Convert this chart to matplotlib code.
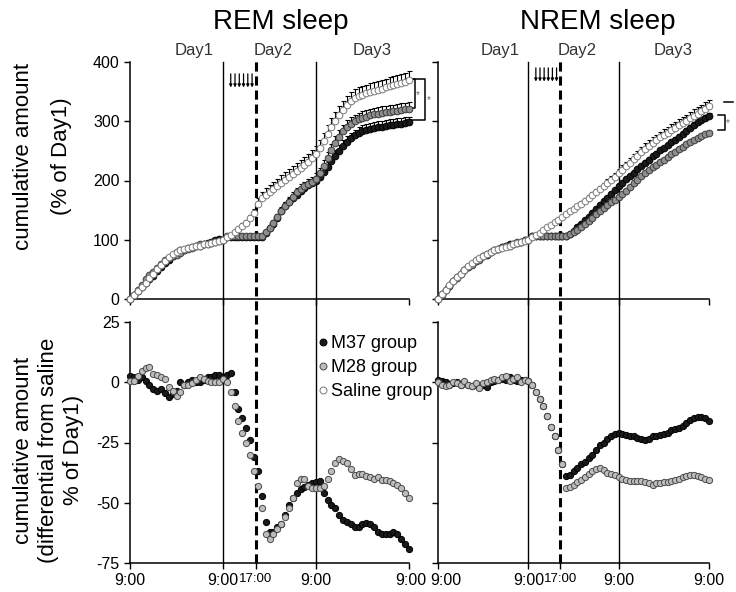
import matplotlib
matplotlib.use("Agg")
import matplotlib.pyplot as plt
import matplotlib.transforms as mtransforms
from matplotlib.lines import Line2D

plt.rcParams.update({
    "font.family": ["Liberation Sans", "DejaVu Sans"],
    "axes.unicode_minus": False,
    "axes.spines.top": False, "axes.spines.right": False,
    "axes.linewidth": 1.1, "xtick.major.width": 1.0, "ytick.major.width": 1.0,
    "xtick.major.size": 4, "ytick.major.size": 4,
})

# ---------------- data (hourly, 9:00 day1 = 0 h) ----------------
HOURS = list(range(73))
ERR_HOURS = list(range(24, 73))
DAY_BOUNDS = [24, 48]
DOSE_TIME = 32.5
XTICKS = [0, 24, 32.5, 48, 72]
XTICKLABELS = ["9:00", "9:00", "17:00", "9:00", "9:00"]
DAY_LABELS = ["Day1", "Day2", "Day3"]
DAY_LABEL_POS = [16.5, 37, 62.5]
ARROW_HOURS = [26.0, 27.1, 28.2, 29.3, 30.4, 31.5]

# REM sleep, cumulative amount (% of Day1)
REM_SAL = [0, 6, 13, 20, 27, 35, 42, 50, 57, 64, 71, 76, 80, 82, 84, 86, 87, 89, 90, 92, 93, 95, 96, 98, 100,
           104, 108, 113, 118, 123, 129, 136, 145, 160, 170, 176, 181, 186, 191, 196, 201, 206, 211, 216, 221,
           226, 232, 238, 245, 255, 266, 278, 290, 300, 310, 319, 327, 334, 339, 342, 345, 347, 349, 351, 353,
           355, 357, 359, 361, 363, 365, 367, 369]
REM_M37 = [0, 7, 14, 21, 27, 34, 39, 47, 54, 60, 66, 73, 80, 82, 83, 86, 88, 89, 90, 93, 95, 97, 99, 101, 100,
           105, 105, 105, 105, 105, 105, 105, 105, 105, 105,
           112, 119, 126, 137, 148, 157, 164, 170, 176, 182, 187, 192, 196,
           200, 206, 214, 223, 233, 242, 250, 258, 265, 271, 276, 280, 283, 285, 287, 289, 290, 291, 292, 293,
           294, 295, 296, 297, 298]
REM_M28 = [0, 6, 15, 24, 33, 41, 45, 52, 59, 65, 69, 73, 75, 78, 83, 85, 86, 90, 92, 93, 93, 95, 96, 98, 100,
           106, 106, 106, 106, 106, 106, 106, 106, 106, 106,
           113, 120, 128, 138, 148, 157, 164, 172, 180, 186, 190, 194, 198,
           203, 212, 224, 238, 252, 264, 274, 283, 291, 296, 300, 303, 306, 308, 310, 312, 313, 314, 315, 316,
           317, 318, 319, 320, 321]
REM_SAL_ERR = [2, 3, 3, 4, 4, 5, 5, 6, 7,
               10, 11, 11, 12, 12, 12, 13, 13, 13, 13, 13, 13, 13, 13, 13,
               13, 14, 14, 15, 15, 15, 15, 15, 15, 15, 15, 15, 15, 15, 15, 15, 15, 15, 15, 15, 15, 15, 15, 15, 15]
REM_M37_ERR = [1, 1, 1, 1, 1, 1, 1, 1, 1, 1, 1,
               3, 4, 5, 6, 6, 7, 7, 7, 7, 7, 7, 7, 7,
               8, 8, 9, 9, 9, 9, 10, 10, 10, 10, 10, 10, 10, 10, 10, 10, 10, 10, 10, 10, 10, 10, 10, 10, 10]
REM_M28_ERR = [1, 1, 1, 1, 1, 1, 1, 1, 1, 1, 1,
               3, 4, 5, 6, 7, 7, 8, 8, 8, 8, 8, 8, 8,
               9, 9, 10, 10, 10, 11, 11, 11, 11, 11, 11, 11, 11, 11, 11, 11, 11, 11, 11, 11, 11, 11, 11, 11, 11]

# NREM sleep, cumulative amount (% of Day1)
NREM_SAL = [0, 8, 16, 23, 30, 37, 43, 49, 55, 60, 65, 69, 73, 76, 79, 82, 84, 86, 88, 90, 92, 94, 96, 98, 100,
            104, 108, 112, 116, 121, 125, 130, 134, 139, 143, 148, 152, 157, 161, 166, 170, 175, 180, 185, 190,
            195, 201, 206, 212, 218, 224, 230, 236, 242, 248, 254, 259, 264, 268, 273, 277, 281, 285, 289, 293,
            297, 301, 305, 309, 313, 317, 321, 325]
NREM_M37 = [0, 8, 16, 22, 30, 37, 42, 49, 54, 59, 64, 67, 72, 74, 79, 82, 85, 87, 89, 92, 93, 94, 97, 99, 100,
            107, 107, 107, 107, 107, 107, 107, 107, 107, 107,
            110, 115, 121, 127, 133, 139, 145, 152, 159, 165, 171, 178, 184, 191, 196, 202, 207, 213, 219, 224,
            230, 235, 241, 245, 251, 255, 260, 265, 269, 274, 279, 284, 289, 294, 298, 302, 306, 309]
NREM_M28 = [0, 7, 15, 22, 30, 36, 42, 49, 54, 58, 64, 66, 72, 76, 80, 83, 85, 88, 90, 90, 93, 96, 96, 99, 100,
            107, 107, 107, 107, 107, 107, 107, 107, 107, 107,
            110, 113, 117, 121, 126, 131, 137, 143, 149, 154, 158, 163, 167, 172, 178, 183, 189, 195, 201, 207,
            212, 217, 222, 226, 231, 235, 240, 244, 248, 253, 257, 261, 265, 268, 272, 275, 278, 281]
NREM_SAL_ERR = [1, 1, 1, 2, 2, 2, 2, 3, 3, 3, 3, 4, 4, 4, 4, 5,
                5, 5, 6, 6, 6, 7, 7, 7, 7, 8, 8, 8, 8, 8, 9, 9, 9, 9, 9, 9, 10, 10, 10, 10, 10, 10, 10,
                11, 11, 11, 11, 11, 11]
NREM_M37_ERR = [1, 1, 1, 1, 1, 1, 1, 1, 1, 1, 1, 2, 2, 2, 2, 2, 2, 2, 2, 3, 3, 3, 3, 3, 3, 3, 3, 3, 3,
                4, 4, 4, 4, 4, 4, 4, 4, 4, 4, 4, 5, 5, 5, 5, 5, 5, 5, 5, 5]
NREM_M28_ERR = [1, 1, 1, 1, 1, 1, 1, 1, 1, 1, 1, 2, 2, 2, 2, 2, 2, 2, 2, 2, 2, 2, 2, 3, 3, 3, 3, 3, 3,
                3, 3, 3, 3, 3, 3, 3, 3, 3, 3, 3, 3, 3, 3, 3, 3, 3, 3, 3, 3]

# differential from saline (% of Day1)
REM_DIFF_M37 = [2.5, 2, 1, 2, 0.5, -1, -3, -3.5, -3, -4.5, -6, -5, -3.5, 0, -1, 0, 1, 0, 0, 1,
                2, 2, 3, 3, 2, 3, 4, -4, -11, -15, -19, -24, -31, -37, -47, -58, -62, -62, -60, -59,
                -55, -51, -48, -46, -44.5, -43.5, -42.5, -42, -41.5, -41, -46, -49, -51, -52, -55, -57, -58, -59,
                -60, -60, -59, -58.5, -59, -60, -62, -63, -63, -63, -62, -63, -65, -67, -69]
REM_DIFF_M28 = [0.5, 0.5, 2.5, 4.5, 6, 6.5, 3.5, 3, 2, 1.5, -2, -3.5, -5.5, -4, -1, -1, -0.5, 1, 2, 1.5,
                0.5, 0, 0, 0, 1.5, 0, -4, -10, -16, -21, -25, -30, -37, -43, -52, -63, -65, -63, -61, -59,
                -56, -52, -48, -42, -40, -40, -43, -44, -44, -44, -43, -40, -37, -33.5, -32, -32.5, -33.5, -36,
                -38.5, -38, -38, -39, -39.5, -40, -39.5, -40.5, -40.5, -41, -42, -42.5, -44, -46, -48]
NREM_DIFF_M37 = [1, 0.5, 0, -1, -0.5, 0, -1, 0, -1, -1.5, -1, -2, -1, -2, 0, 0.5, 1, 1.5, 1, 2,
                 1, 0.5, 1, 1, 0.5, -1, -4, -7, -10, -14, -18.5, -22.5, -28, -34, -39,
                 -38.5, -37, -35.5, -34, -33, -31.5, -30, -28, -26, -25, -23.5, -22.5, -21.5, -21, -21.5,
                 -22, -22.5, -22.5, -23, -23.5, -24, -23.5, -22.5, -22.5, -22, -21.5, -21, -20, -19.5, -19,
                 -18, -17, -15.5, -15, -14.5, -14.5, -15, -16]
NREM_DIFF_M28 = [0, -1, -1.5, -1, 0, -0.5, -1, 0.5, -1, -1.5, -0.5, -2.5, -0.5, 0, 1, 1.5, 1, 2, 2.5, 0.5,
                 1.5, 2, 0, 1, 0.5, -1, -4, -7, -10, -14, -18.5, -22.5, -28, -34, -44,
                 -43.5, -42.5, -41.5, -40.5, -39.5, -38, -37, -36, -35.5, -36.5, -37.5, -38, -38.5, -39.5, -40,
                 -40.5, -41, -41, -41, -41, -41.5, -42, -42.5, -42, -42, -41.5, -41.5, -41, -40.5, -40,
                 -39.5, -39, -38.5, -38.5, -39, -39.5, -40, -40.5]

# marker styles
BLACK = dict(mfc="#1a1a1a", mec="black")
GRAY_TOP = dict(mfc="#8e8e8e", mec="#3c3c3c")
GRAY_BOT = dict(mfc="#bdbdbd", mec="#4a4a4a")
WHITE = dict(mfc="white", mec="#7a7a7a")


def px_box(x0, y0, x1, y1):
    return [x0 / 736, 1 - y1 / 592, (x1 - x0) / 736, (y1 - y0) / 592]


fig = plt.figure(figsize=(7.36, 5.92), dpi=100)
ax_rt = fig.add_axes(px_box(130, 62, 409, 299))
ax_nt = fig.add_axes(px_box(438, 62, 709, 299))
ax_rb = fig.add_axes(px_box(130, 322, 409, 563))
ax_nb = fig.add_axes(px_box(438, 322, 709, 563))
for ax in (ax_rt, ax_nt, ax_rb, ax_nb):
    ax.set_facecolor("none")
    ax.set_xlim(0, 72)
    ax.set_xticks(XTICKS)
    ax.tick_params(direction="out", labelsize=11.5)


def dots(ax, y, style, ms=5.0):
    ax.plot(HOURS, y, "o", ms=ms, mew=0.7, clip_on=False, zorder=3, **style)


def errs(ax, y, e):
    yy = y[24:]
    ax.errorbar(ERR_HOURS, yy, yerr=[[0] * len(e), e], fmt="none", ecolor="black",
                elinewidth=0.8, capsize=1.8, capthick=0.8, zorder=2, clip_on=False)


# ---------------- top panels: cumulative amount ----------------
for ax, sal, m37, m28, e_sal, e37, e28, arr_y in [
        (ax_rt, REM_SAL, REM_M37, REM_M28, REM_SAL_ERR, REM_M37_ERR, REM_M28_ERR, (380, 357)),
        (ax_nt, NREM_SAL, NREM_M37, NREM_M28, NREM_SAL_ERR, NREM_M37_ERR, NREM_M28_ERR, (390, 367))]:
    errs(ax, m37, e37)
    errs(ax, m28, e28)
    errs(ax, sal, e_sal)
    dots(ax, m37, BLACK, ms=4.8)
    dots(ax, m28, GRAY_TOP, ms=4.8)
    dots(ax, sal, WHITE, ms=4.8)
    ax.set_ylim(0, 400)
    ax.set_yticks([0, 100, 200, 300, 400])
    ax.set_xticks([0, 24, 48, 72])
    ax.set_xticklabels([])
    for h in ARROW_HOURS:
        ax.annotate("", xy=(h, arr_y[1]), xytext=(h, arr_y[0]), annotation_clip=False,
                    arrowprops=dict(arrowstyle="-|>", lw=0.9, color="black", mutation_scale=4,
                                    shrinkA=0, shrinkB=0))
    tr = mtransforms.blended_transform_factory(ax.transData, ax.transAxes)
    for lab, pos in zip(DAY_LABELS, DAY_LABEL_POS):
        ax.text(pos, 1.05, lab, transform=tr, ha="center", va="center", fontsize=12,
                color="#333333", family=["Liberation Sans Narrow", "Liberation Sans"])
ax_nt.set_yticklabels([])

# significance brackets
bk = dict(color="black", lw=1.1, clip_on=False)
ax_rt.plot([71.2, 73.6, 73.6, 71.2], [371, 371, 322, 322], **bk)
ax_rt.plot([71.2, 76.1, 76.1, 71.2], [371, 371, 302, 302], **bk)
ax_rt.text(74.3, 344, "*", fontsize=7, color="#666666", ha="center", va="center")
ax_rt.text(77.0, 336, "*", fontsize=7, color="#666666", ha="center", va="center")
ax_nt.plot([76.0, 78.4], [332, 332], **bk)
ax_nt.plot([74.4, 76.2, 76.2, 74.4], [311, 311, 285, 285], **bk)
ax_nt.text(77.0, 297, "*", fontsize=7, color="#666666", ha="center", va="center")

# ---------------- bottom panels: differential from saline ----------------
for ax, d37, d28 in [(ax_rb, REM_DIFF_M37, REM_DIFF_M28), (ax_nb, NREM_DIFF_M37, NREM_DIFF_M28)]:
    dots(ax, d37, BLACK, ms=4.5)
    dots(ax, d28, GRAY_BOT, ms=4.5)
    ax.set_ylim(-75, 25)
    ax.set_yticks([25, 0, -25, -50, -75])
    ax.set_xticklabels(XTICKLABELS, fontsize=11.5)
    ax.get_xticklabels()[2].set_fontsize(9.5)
    ax.tick_params(axis="x", pad=3)
ax_nb.set_yticklabels([])
# nudge labels where the two panels meet, as in the original layout
first = ax_nb.get_xticklabels()[0]
first.set_transform(first.get_transform() + mtransforms.ScaledTranslation(8 / 100, 0, fig.dpi_scale_trans))
last = ax_rb.get_xticklabels()[-1]
last.set_transform(last.get_transform() + mtransforms.ScaledTranslation(2 / 100, 0, fig.dpi_scale_trans))

handles = [Line2D([], [], ls="", marker="o", ms=5, mew=0.7, **BLACK),
           Line2D([], [], ls="", marker="o", ms=5, mew=0.7, **GRAY_BOT),
           Line2D([], [], ls="", marker="o", ms=5, mew=0.7, **WHITE)]
ax_rb.legend(handles, ["M37 group", "M28 group", "Saline group"], loc="upper left",
             bbox_to_anchor=(0.675, 0.945), frameon=False, fontsize=13, handlelength=0.55,
             handletextpad=0.15, labelspacing=0.38, borderaxespad=0, borderpad=0)

# day boundaries and dosing time span both rows
for ax_t, ax_b in [(ax_rt, ax_rb), (ax_nt, ax_nb)]:
    tr = mtransforms.blended_transform_factory(ax_t.transData, fig.transFigure)
    y_top = ax_t.get_position().y1
    y_bot = ax_b.get_position().y0
    for x in DAY_BOUNDS:
        fig.add_artist(Line2D([x, x], [y_bot, y_top], transform=tr, color="black", lw=1.0, zorder=-1))
    fig.add_artist(Line2D([DOSE_TIME, DOSE_TIME], [y_bot, y_top + 0.009], transform=tr,
                          color="black", lw=2.2, ls=(0, (3, 1.6)), zorder=-1))

# titles and axis labels
fig.text(281 / 736, 1 - 22 / 592, "REM sleep", ha="center", va="center", fontsize=20)
fig.text(598 / 736, 1 - 22 / 592, "NREM sleep", ha="center", va="center", fontsize=20)
fig.text(24 / 736, 1 - 156 / 592, "cumulative amount", rotation=90, ha="center", va="center", fontsize=16)
fig.text(62 / 736, 1 - 156 / 592, "(% of Day1)", rotation=90, ha="center", va="center", fontsize=16)
fig.text(24 / 736, 1 - 450 / 592, "cumulative amount", rotation=90, ha="center", va="center", fontsize=16)
fig.text(49 / 736, 1 - 450 / 592, "(differential from saline", rotation=90, ha="center", va="center",
         fontsize=16)
fig.text(74 / 736, 1 - 450 / 592, "% of Day1)", rotation=90, ha="center", va="center", fontsize=16)

fig.savefig("out.png", dpi=100)
